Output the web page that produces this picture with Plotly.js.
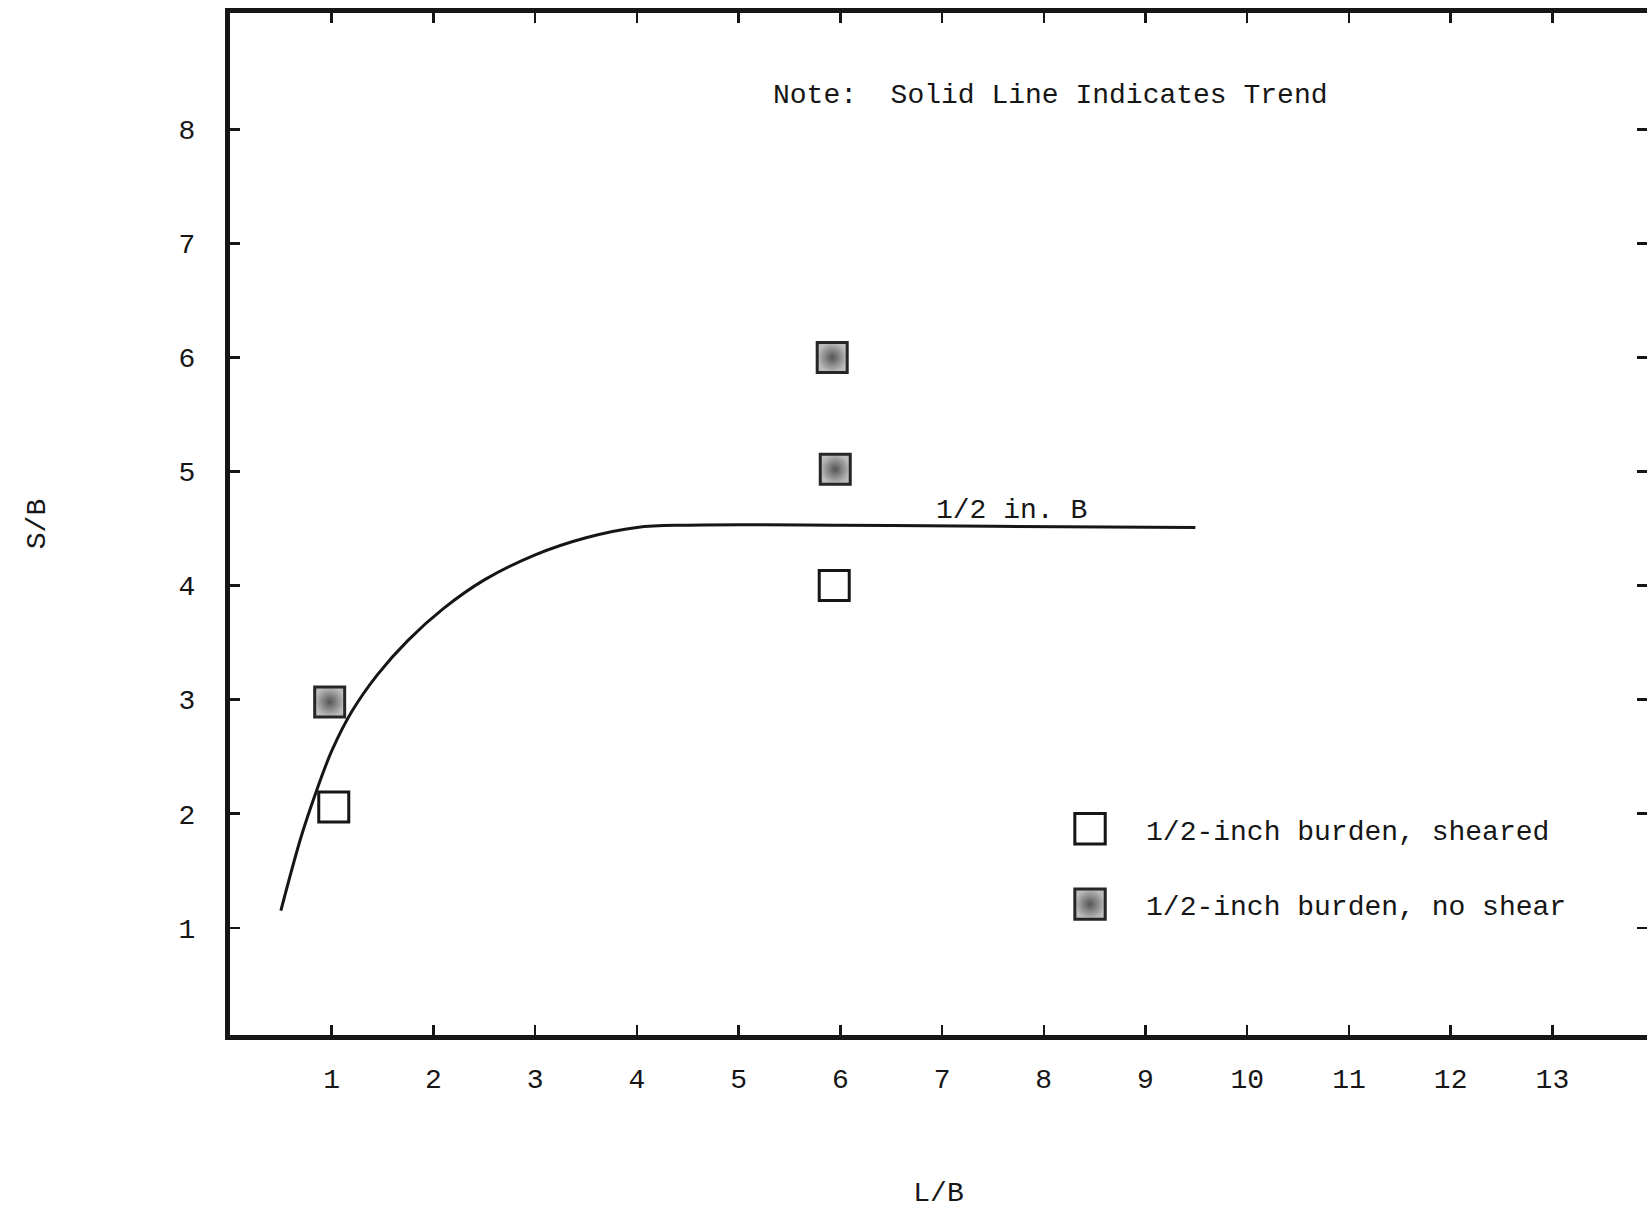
<!DOCTYPE html>
<html>
<head>
<meta charset="utf-8">
<script src="https://cdn.plot.ly/plotly-3.0.1.min.js"></script>
<style>html,body{margin:0;padding:0;background:#fff;}#chart{width:1647px;height:1209px;}</style>
</head>
<body>
<div id="chart"></div>
<script>
// ---- data ----
const shearedLB = [1.02, 5.94];
const shearedSB = [2.06, 4.00];
const noShearLB = [0.98, 5.92, 5.95];
const noShearSB = [2.98, 6.00, 5.02];
const trendLB = [0.50, 0.70, 0.85, 1.00, 1.20, 1.45, 1.75, 2.10, 2.50, 3.00, 3.50, 4.00, 4.50, 6.00, 7.50, 9.49];
const trendSB = [1.15, 1.80, 2.20, 2.55, 2.90, 3.22, 3.52, 3.80, 4.05, 4.27, 4.42, 4.51, 4.53, 4.53, 4.52, 4.51];
const xTicks = [1,2,3,4,5,6,7,8,9,10,11,12,13];
const yTicks = [1,2,3,4,5,6,7,8];
const legendNames = ["1/2-inch burden, sheared", "1/2-inch burden, no shear"];
const noteText = "Note:&nbsp;&nbsp;Solid Line Indicates Trend";
const curveLabel = "1/2 in. B";

const FONT = "Liberation Mono, Courier New, DejaVu Sans Mono, monospace";
const INK = "#161616";

const traces = [
  {
    type: "scatter", mode: "lines", x: trendLB, y: trendSB,
    line: {color: INK, width: 3, shape: "spline", smoothing: 1},
    showlegend: false, hoverinfo: "skip"
  },
  {
    type: "scatter", mode: "markers", x: shearedLB, y: shearedSB,
    name: legendNames[0], legendgroup: "a",
    marker: {symbol: "square", size: 30, color: "#ffffff", line: {color: INK, width: 3}}
  },
  {
    type: "scatter", mode: "markers", x: noShearLB, y: noShearSB,
    name: legendNames[1], legendgroup: "b",
    marker: {symbol: "square", size: 30, color: "#bdbdbd",
             gradient: {type: "radial", color: "#555555"},
             line: {color: "#262626", width: 3}}
  },
  {type: "scatter", x: [], y: [], yaxis: "y2", showlegend: false, hoverinfo: "skip"}
];

const layout = {
  width: 1647, height: 1209,
  margin: {l: 230, r: 0, t: 13, b: 174},
  paper_bgcolor: "#ffffff", plot_bgcolor: "#ffffff",
  font: {family: FONT, size: 28, color: INK},
  showlegend: true,
  legend: {
    x: 0.59, y: 0.226, xanchor: "left", yanchor: "top",
    bgcolor: "rgba(0,0,0,0)", borderwidth: 0,
    font: {family: FONT, size: 28, color: INK},
    traceorder: "grouped", tracegroupgap: 36, itemwidth: 70
  },
  xaxis: {
    range: [0, 13.93], tickvals: xTicks, ticktext: xTicks.map(String),
    showgrid: false, zeroline: false,
    showline: true, linecolor: INK, linewidth: 5, mirror: "ticks",
    ticks: "inside", ticklen: 10, tickwidth: 2.5, tickcolor: INK,
    ticklabelstandoff: 14,
    tickfont: {family: FONT, size: 28, color: INK},
    title: {text: "L/B", font: {family: FONT, size: 28, color: INK}, standoff: 88}
  },
  yaxis: {
    range: [0.06, 9.02], tickvals: yTicks, ticktext: yTicks.map(String),
    showgrid: false, zeroline: false,
    showline: true, linecolor: INK, linewidth: 5, mirror: false,
    ticks: "inside", ticklen: 10, tickwidth: 2.5, tickcolor: INK,
    ticklabelstandoff: 24,
    tickfont: {family: FONT, size: 28, color: INK},
    title: {text: "S/B", font: {family: FONT, size: 28, color: INK}, standoff: 126}
  },
  yaxis2: {
    overlaying: "y", side: "right", anchor: "x",
    range: [0.06, 9.02], tickvals: yTicks, showticklabels: false,
    showgrid: false, zeroline: false, showline: false,
    ticks: "inside", ticklen: 10, tickwidth: 2.5, tickcolor: INK
  },
  annotations: [
    {x: 8.07, y: 8.30, xref: "x", yref: "y", text: noteText, showarrow: false,
     font: {family: FONT, size: 28, color: INK}},
    {x: 7.68, y: 4.66, xref: "x", yref: "y", text: curveLabel, showarrow: false,
     font: {family: FONT, size: 28, color: INK}}
  ]
};

Plotly.newPlot("chart", traces, layout, {displayModeBar: false, staticPlot: true}).then(function (gd) {
  // enlarge legend symbols to match the plotted marker size, and set them a little further from the text
  gd.querySelectorAll(".legend .legendpoints path.scatterpts").forEach(function (p) {
    const t = p.getAttribute("transform") || "";
    p.setAttribute("transform", t + " translate(-16,0) scale(1.9)");
    p.style.strokeWidth = "1.6px";
  });
});
</script>
</body>
</html>
